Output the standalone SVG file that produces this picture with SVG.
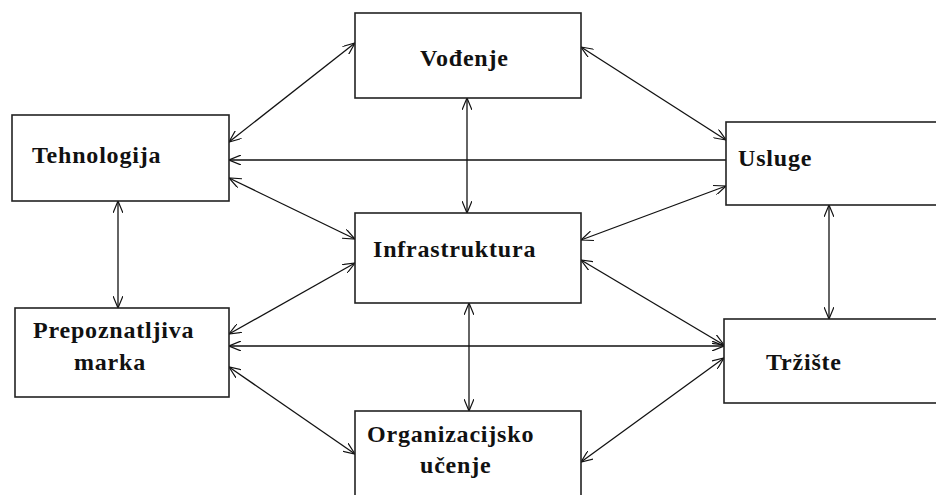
<svg xmlns="http://www.w3.org/2000/svg" width="936" height="495" viewBox="0 0 936 495">
<style>
.box{fill:#fff;stroke:#222;stroke-width:1.6}
.lbl{font-family:"Liberation Serif","Times New Roman",serif;font-weight:bold;font-size:24px;letter-spacing:0.8px;fill:#111}
.c{stroke:#111;stroke-width:1.3;fill:none}
.b{marker-start:url(#ah);marker-end:url(#ah)}
.e{marker-end:url(#ah)}
</style>
<defs>
<marker id="ah" viewBox="0 0 12 10" refX="12" refY="5" markerWidth="12" markerHeight="10" markerUnits="userSpaceOnUse" orient="auto-start-reverse">
<path d="M0,0 L12,5 L0,10" fill="none" stroke="#111" stroke-width="1.2"/>
</marker>
</defs>
<rect width="936" height="495" fill="#fff"/>
<g id="connectors">
<line class="c b" x1="229" y1="142" x2="355" y2="43"/>
<line class="c e" x1="726" y1="160" x2="229" y2="160"/>
<line class="c b" x1="229" y1="178" x2="355" y2="239"/>
<line class="c b" x1="467" y1="98" x2="467" y2="213"/>
<line class="c b" x1="581" y1="47" x2="726" y2="140"/>
<line class="c b" x1="726" y1="186" x2="581" y2="240"/>
<line class="c b" x1="829" y1="205" x2="829" y2="319"/>
<line class="c b" x1="118" y1="201" x2="118" y2="308"/>
<line class="c b" x1="229" y1="334" x2="355" y2="263"/>
<line class="c b" x1="229" y1="346" x2="724" y2="346"/>
<line class="c b" x1="229" y1="367" x2="355" y2="454"/>
<line class="c b" x1="469" y1="303" x2="469" y2="411"/>
<line class="c b" x1="581" y1="260" x2="724" y2="345"/>
<line class="c b" x1="581" y1="462" x2="724" y2="358"/>
</g>
<g id="vodjenje">
<rect class="box" x="355" y="13" width="226" height="85"/>
<text class="lbl" x="420" y="66">Vođenje</text>
</g>
<g id="tehnologija">
<rect class="box" x="12" y="115" width="217" height="86"/>
<text class="lbl" x="32" y="163">Tehnologija</text>
</g>
<g id="usluge">
<rect class="box" x="726" y="122" width="220" height="83"/>
<text class="lbl" x="738" y="166">Usluge</text>
</g>
<g id="infrastruktura">
<rect class="box" x="355" y="213" width="226" height="90"/>
<text class="lbl" x="373" y="257">Infrastruktura</text>
</g>
<g id="prepoznatljiva-marka">
<rect class="box" x="15" y="308" width="214" height="89"/>
<text class="lbl" x="33" y="338">Prepoznatljiva</text>
<text class="lbl" x="74" y="370">marka</text>
</g>
<g id="trziste">
<rect class="box" x="724" y="319" width="222" height="84"/>
<text class="lbl" x="766" y="370">Tržište</text>
</g>
<g id="organizacijsko-ucenje">
<rect class="box" x="355" y="411" width="226" height="94"/>
<text class="lbl" x="367" y="442">Organizacijsko</text>
<text class="lbl" x="420" y="473">učenje</text>
</g>
</svg>
